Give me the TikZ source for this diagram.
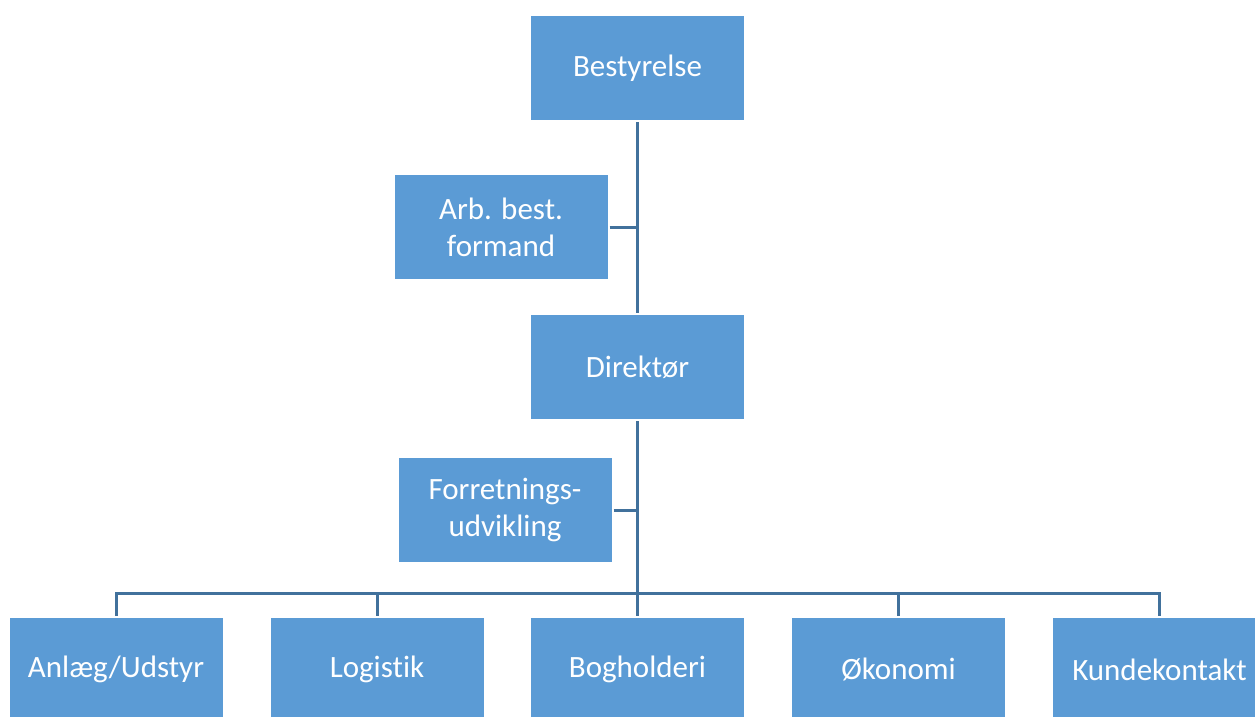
\documentclass[tikz,border=0pt]{standalone}
\usepackage{fontspec}
\setmainfont[Ligatures=NoCommon]{Carlito}
\definecolor{boxfill}{HTML}{5B9BD5}
\definecolor{linec}{HTML}{41719C}
\begin{document}
\begin{tikzpicture}[x=1pt,y=-1pt,
  box/.style={fill=boxfill, text=white, minimum width=213pt, minimum height=104pt,
    inner sep=0pt, align=center, font=\fontsize{31}{37}\selectfont, outer sep=2pt},
  conn/.style={draw=linec, line width=3pt}]
\useasboundingbox (0,0) rectangle (1255,716);
\clip (0,0) rectangle (1255,716);
\node[box] (best) at (637.5,68) {Bestyrelse};
\node[box] (arb) at (501,227) {Arb. best.\\formand};
\node[box] (dir) at (637.5,367) {Direktør};
\node[box] (forr) at (505,510) {Forretnings-\\udvikling};
\node[box] (b1) at (116,669.5) {Anlæg/Udstyr};
\node[box] (b2) at (377,669.5) {Logistik};
\node[box] (b3) at (637.5,669.5) {Bogholderi};
\node[box] (b4) at (898.5,669.5) {Økonomi};
\node[box] (b5) at (1159.5,669.5) {Kundekontakt};
\coordinate (hub) at (637.5,593);
\draw[conn] (best.south) -- (dir.north);
\draw[conn] (dir.south) -- (dir.south |- hub);
\draw[conn] (arb.east) -- (arb.east -| best.south);
\draw[conn] (forr.east) -- (forr.east -| dir.south);
\draw[conn] (b1.north) -- (b1.north |- hub) -- (b5.north |- hub) -- (b5.north);
\draw[conn] (b2.north) -- (b2.north |- hub);
\draw[conn] (b3.north) -- (b3.north |- hub);
\draw[conn] (b4.north) -- (b4.north |- hub);
\end{tikzpicture}
\end{document}
